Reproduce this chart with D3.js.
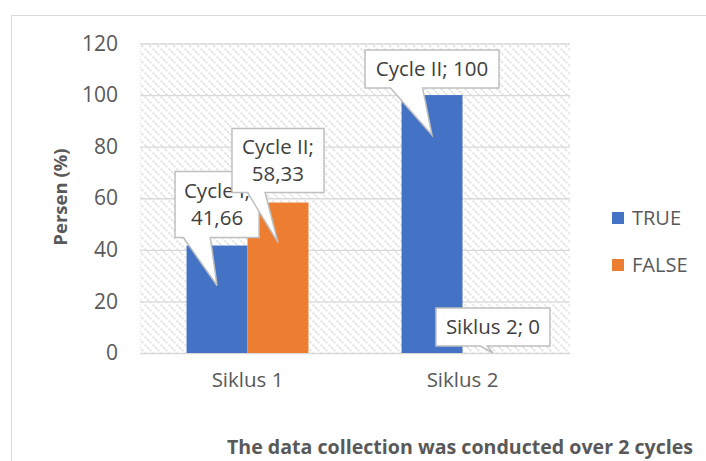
<!DOCTYPE html>
<html>
<head>
<meta charset="utf-8">
<script src="https://cdn.jsdelivr.net/npm/d3@7"></script>
<style>
  body { margin: 0; background: #fff; }
  text { font-family: "Open Sans", sans-serif; }
</style>
</head>
<body>
<svg id="grafik" width="706" height="461"></svg>
<script>
// data
const kategori = ["Siklus 1", "Siklus 2"];
const seri = ["TRUE", "FALSE"];
const nilaiTrue = [41.66, 100];
const nilaiFalse = [58.33, 0];
const yTicks = [0, 20, 40, 60, 80, 100, 120];
// label data (text lines per bar)
const labelTeks = [
  ["Cycle I;", "41,66"],
  ["Cycle II;", "58,33"],
  ["Cycle II; 100"],
  ["Siklus 2; 0"]
];

const warna = { TRUE: "#4472C4", FALSE: "#ED7D31" };

const svg = d3.select("#grafik");
const plot = { left: 140, right: 570, top: 43.5, bottom: 353 };

// frame
svg.append("rect")
  .attr("x", 11.5).attr("y", 15.5)
  .attr("width", 720).attr("height", 470)
  .attr("fill", "#fff").attr("stroke", "#d9d9d9");

// hatch
const defs = svg.append("defs");
const pat = defs.append("pattern")
  .attr("id", "arsir")
  .attr("patternUnits", "userSpaceOnUse")
  .attr("width", 8).attr("height", 8);
pat.append("path")
  .attr("d", "M-2,-2 L10,10 M-2,6 L2,10 M6,-2 L10,2")
  .attr("stroke", "#e0e0e0").attr("stroke-width", 1.7)
  .attr("stroke-dasharray", "2.5,1");

const x0 = d3.scaleBand().domain(kategori)
  .range([plot.left, plot.right])
  .paddingInner(0.433).paddingOuter(0.2165);
const x1 = d3.scaleBand().domain(seri).range([0, x0.bandwidth()]);
const y = d3.scaleLinear().domain([0, 120]).range([plot.bottom, plot.top]);

svg.append("rect")
  .attr("x", plot.left).attr("y", plot.top)
  .attr("width", plot.right - plot.left)
  .attr("height", plot.bottom - plot.top)
  .attr("fill", "url(#arsir)");

// grid
svg.append("g")
  .attr("transform", `translate(${plot.left},0)`)
  .call(d3.axisLeft(y).tickValues(yTicks).tickSize(-(plot.right - plot.left)).tickFormat(""))
  .call(g => g.select(".domain").remove())
  .call(g => g.selectAll("line").attr("stroke", "#d9d9d9").attr("stroke-width", 1.3));

// y labels
svg.append("g")
  .attr("transform", `translate(${plot.left - 22},0)`)
  .call(d3.axisLeft(y).tickValues(yTicks).tickSize(0).tickPadding(0))
  .call(g => g.select(".domain").remove())
  .call(g => g.selectAll("text")
    .attr("fill", "#595959").attr("font-size", 21)
    .style("font-family", "'Open Sans', sans-serif"));

// x labels
svg.append("g")
  .attr("transform", `translate(0,${plot.bottom})`)
  .call(d3.axisBottom(x0).tickSize(0).tickPadding(19))
  .call(g => g.select(".domain").remove())
  .call(g => g.selectAll("text")
    .attr("fill", "#595959").attr("font-size", 20.5)
    .style("font-family", "'Open Sans', sans-serif"));

// bars
const dataBar = [];
kategori.forEach((k, i) => {
  dataBar.push({ kat: k, seri: "TRUE", v: nilaiTrue[i] });
  dataBar.push({ kat: k, seri: "FALSE", v: nilaiFalse[i] });
});

svg.append("g").selectAll("rect")
  .data(dataBar)
  .join("rect")
  .attr("x", d => x0(d.kat) + x1(d.seri))
  .attr("y", d => y(d.v))
  .attr("width", x1.bandwidth())
  .attr("height", d => y(0) - y(d.v))
  .attr("fill", d => warna[d.seri]);

// callouts
// urutan label: S1 TRUE, S1 FALSE, S2 TRUE, S2 FALSE
const tata = [
  { w: 84, h: 66, naik: 48, turun: 40, b0: -0.40, b1: -0.08 },
  { w: 92, h: 64, naik: 50, turun: 40, b0: -0.33, b1: -0.14 },
  { w: 134, h: 38, naik: 47, turun: 40, b0: -0.31, b1: -0.07 },
  { w: 114, h: 38, naik: 7, turun: 0, b0: -0.11, b1: -0.05 }
];

const gLabel = svg.append("g");
dataBar.forEach((d, i) => {
  const t = tata[i];
  const tx = x0(d.kat) + x1(d.seri) + x1.bandwidth() / 2;
  const ty = Math.min(y(d.v) + t.turun, y(0));
  const bx = tx - t.w / 2, bb = ty - t.naik, by = bb - t.h;
  const p0 = tx + t.b0 * t.w, p1 = tx + t.b1 * t.w;
  const path = `M${bx},${by} H${bx + t.w} V${bb} H${p1} L${tx},${ty} L${p0},${bb} H${bx} Z`;
  gLabel.append("path")
    .attr("d", path)
    .attr("fill", "#fff").attr("stroke", "#bfbfbf").attr("stroke-width", 1.5);
  const baris = labelTeks[i];
  const lh = 27;
  const y0 = by + t.h / 2 - (baris.length - 1) * lh / 2;
  baris.forEach((s, j) => {
    gLabel.append("text")
      .attr("x", tx).attr("y", y0 + j * lh)
      .attr("dy", "0.35em")
      .attr("text-anchor", "middle")
      .attr("font-size", 20.5).attr("fill", "#404040")
      .text(s);
  });
});

// axis titles
svg.append("text")
  .attr("transform", `translate(61,197) rotate(-90)`)
  .attr("text-anchor", "middle").attr("dy", "0.35em")
  .attr("font-size", 18.5).attr("font-weight", "bold").attr("fill", "#595959")
  .text("Persen (%)");

svg.append("text")
  .attr("x", 460).attr("y", 447)
  .attr("text-anchor", "middle").attr("dy", "0.35em")
  .attr("font-size", 19.6).attr("font-weight", "bold").attr("fill", "#595959")
  .text("The data collection was conducted over 2 cycles");

// legend
const leg = svg.append("g").attr("transform", "translate(612,212)");
seri.forEach((s, i) => {
  leg.append("rect")
    .attr("x", 0).attr("y", i * 47)
    .attr("width", 12).attr("height", 12)
    .attr("fill", warna[s]);
  leg.append("text")
    .attr("x", 20).attr("y", i * 47 + 6)
    .attr("dy", "0.35em")
    .attr("font-size", 20).attr("fill", "#595959")
    .text(s);
});
</script>
</body>
</html>
